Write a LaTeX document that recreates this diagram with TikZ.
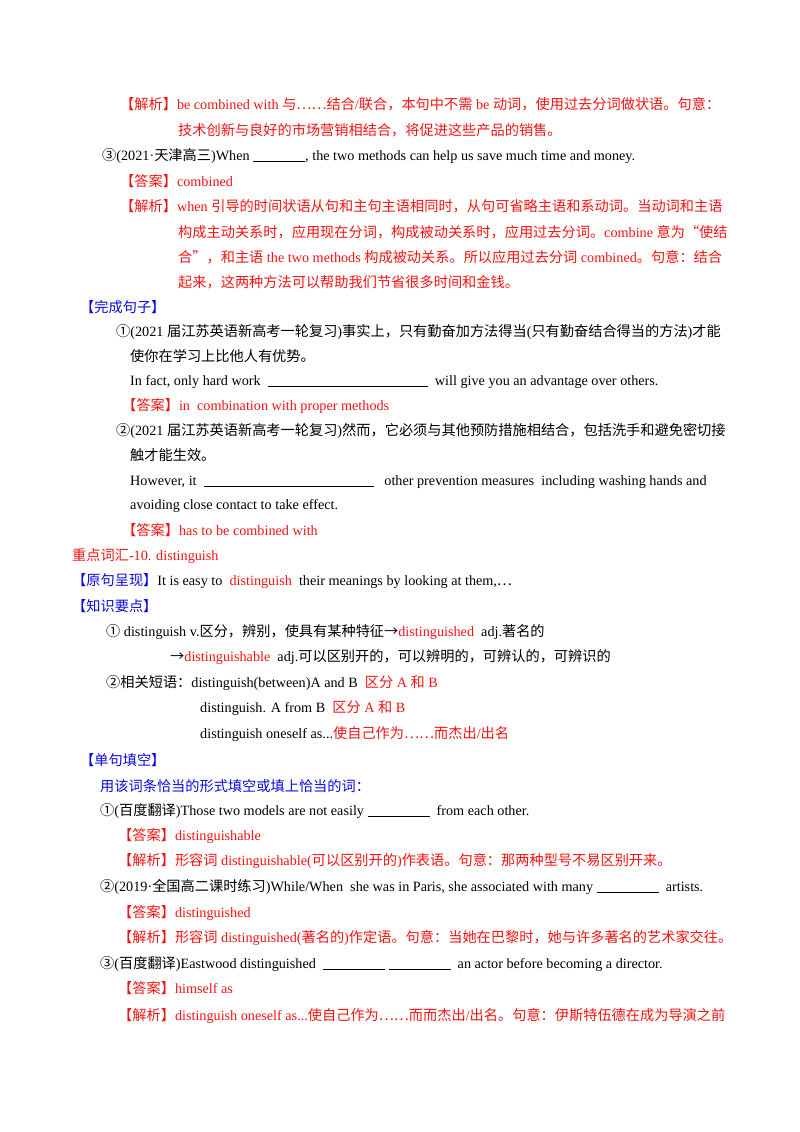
\documentclass[tikz,border=0pt]{standalone}
\usepackage{fontspec}
\setmainfont{Liberation Serif}
\newfontfamily\cjkf{Noto Sans CJK SC}
\newcommand\latinf{\rmfamily}
\XeTeXinterchartokenstate=1
\newXeTeXintercharclass\cjkclass
\count255="4E00
\loop\XeTeXcharclass\count255=\cjkclass\advance\count255 1 \ifnum\count255<"9FFF\repeat
\count255="3000
\loop\XeTeXcharclass\count255=\cjkclass\advance\count255 1 \ifnum\count255<"3040\repeat
\count255="FF00
\loop\XeTeXcharclass\count255=\cjkclass\advance\count255 1 \ifnum\count255<"FFF0\repeat
\count255="2460
\loop\XeTeXcharclass\count255=\cjkclass\advance\count255 1 \ifnum\count255<"2474\repeat
\XeTeXcharclass"2026=\cjkclass
\XeTeXcharclass"201C=\cjkclass
\XeTeXcharclass"201D=\cjkclass
\XeTeXcharclass"2192=\cjkclass
\XeTeXinterchartoks 0 \cjkclass = {\cjkf}
\XeTeXinterchartoks 4095 \cjkclass = {\cjkf}
\XeTeXinterchartoks \cjkclass 0 = {\latinf}
\XeTeXinterchartoks \cjkclass 4095 = {\latinf}
\definecolor{rd}{RGB}{240,20,20}
\definecolor{bl}{RGB}{10,10,220}
\newcommand\R[1]{\textcolor{rd}{#1}}
\newcommand\B[1]{\textcolor{bl}{#1}}
\newcommand\blank[1]{\underline{\hspace{#1}}}
\tikzset{ln/.style={anchor=base west,inner sep=0pt,font=\fontsize{14.2}{16}\selectfont}}
\begin{document}
\begin{tikzpicture}[x=1pt,y=-1pt]
\useasboundingbox[fill=white] (0,0) rectangle (800,1132);
\node[ln] (l1) at (120,109) {\R{【解析】be combined with 与……结合/联合，本句中不需 be 动词，使用过去分词做状语。句意：}};
\node[ln] (l2) at (178,135) {\R{技术创新与良好的市场营销相结合，将促进这些产品的销售。}};
\node[ln] (l3) at (102,160) {③(2021·天津高三)When \blank{52pt}, the two methods can help us save much time and money.};
\node[ln] (l4) at (120,186) {\R{【答案】combined}};
\node[ln] (l5) at (120,211) {\R{【解析】when 引导的时间状语从句和主句主语相同时，从句可省略主语和系动词。当动词和主语}};
\node[ln] (l6) at (178,237) {\R{构成主动关系时，应用现在分词，构成被动关系时，应用过去分词。combine 意为“使结}};
\node[ln] (l7) at (178,262) {\R{合”，和主语 the two methods 构成被动关系。所以应用过去分词 combined。句意：结合}};
\node[ln] (l8) at (178,287) {\R{起来，这两种方法可以帮助我们节省很多时间和金钱。}};
\node[ln] (l9) at (80,312) {\B{【完成句子】}};
\node[ln] (l10) at (116,336) {①(2021 届江苏英语新高考一轮复习)事实上，只有勤奋加方法得当(只有勤奋结合得当的方法)才能};
\node[ln] (l11) at (130,361) {使你在学习上比他人有优势。};
\node[ln] (l12) at (130,385) {In fact, only hard work \ \blank{160pt} \ will give you an advantage over others.};
\node[ln] (l13) at (122,410) {\R{【答案】in \ combination with proper methods}};
\node[ln] (l14) at (116,435) {②(2021 届江苏英语新高考一轮复习)然而，它必须与其他预防措施相结合，包括洗手和避免密切接};
\node[ln] (l15) at (130,460) {触才能生效。};
\node[ln] (l16) at (130,485) {However, it \ \blank{170pt} \ \ other prevention measures \ including washing hands and};
\node[ln] (l17) at (130,509) {avoiding close contact to take effect.};
\node[ln] (l18) at (122,535) {\R{【答案】has to be combined with}};
\node[ln] (l19) at (72,560) {\R{重点词汇-10. distinguish}};
\node[ln] (l20) at (72,585) {\B{【原句呈现】}It is easy to \ \R{distinguish} \ their meanings by looking at them,\dots};
\node[ln] (l21) at (72,611) {\B{【知识要点】}};
\node[ln] (l22) at (106,636) {① distinguish v.区分，辨别，使具有某种特征→\R{distinguished} \ adj.著名的};
\node[ln] (l23) at (170,661) {→\R{distinguishable} \ adj.可以区别开的，可以辨明的，可辨认的，可辨识的};
\node[ln] (l24) at (106,687) {②相关短语：distinguish(between)A and B \ \R{区分 A 和 B}};
\node[ln] (l25) at (200,712) {distinguish. A from B \ \R{区分 A 和 B}};
\node[ln] (l26) at (200,738) {distinguish oneself as...\R{使自己作为……而杰出/出名}};
\node[ln] (l27) at (80,765) {\B{【单句填空】}};
\node[ln] (l28) at (100,791) {\B{用该词条恰当的形式填空或填上恰当的词：}};
\node[ln] (l29) at (100,815) {①(百度翻译)Those two models are not easily \blank{62pt} \ from each other.};
\node[ln] (l30) at (118,840) {\R{【答案】distinguishable}};
\node[ln] (l31) at (118,865) {\R{【解析】形容词 distinguishable(可以区别开的)作表语。句意：那两种型号不易区别开来。}};
\node[ln] (l32) at (100,891) {②(2019·全国高二课时练习)While/When \ she was in Paris, she associated with many \blank{62pt} \ artists.};
\node[ln] (l33) at (118,917) {\R{【答案】distinguished}};
\node[ln] (l34) at (118,942) {\R{【解析】形容词 distinguished(著名的)作定语。句意：当她在巴黎时，她与许多著名的艺术家交往。}};
\node[ln] (l35) at (100,968) {③(百度翻译)Eastwood distinguished \ \blank{62pt} \blank{62pt} \ an actor before becoming a director.};
\node[ln] (l36) at (118,993) {\R{【答案】himself as}};
\node[ln] (l37) at (118,1020) {\R{【解析】distinguish oneself as...使自己作为……而而杰出/出名。句意：伊斯特伍德在成为导演之前}};
\end{tikzpicture}
\end{document}
